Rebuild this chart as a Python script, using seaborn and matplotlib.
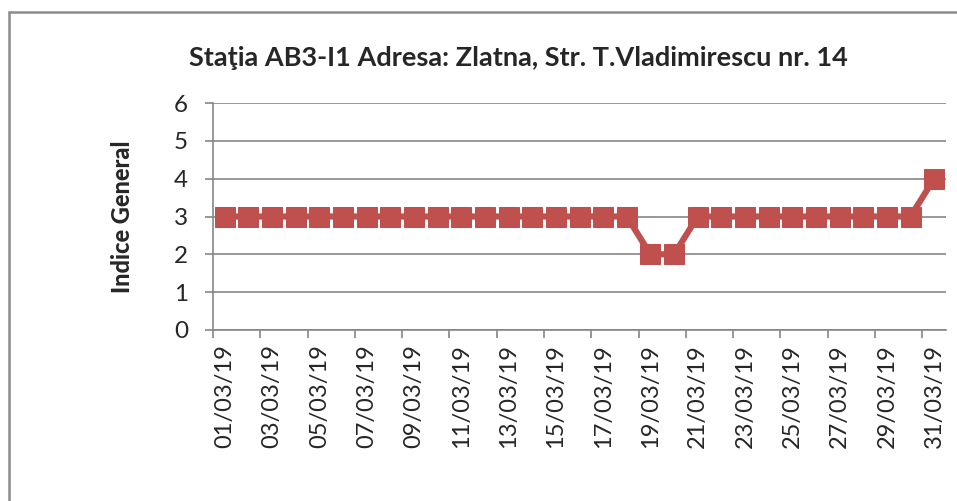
import matplotlib
matplotlib.use("Agg")
import matplotlib.pyplot as plt
from matplotlib.lines import Line2D
import seaborn as sns
import pandas as pd

dates = ["01/03/19", "02/03/19", "03/03/19", "04/03/19", "05/03/19", "06/03/19",
         "07/03/19", "08/03/19", "09/03/19", "10/03/19", "11/03/19", "12/03/19",
         "13/03/19", "14/03/19", "15/03/19", "16/03/19", "17/03/19", "18/03/19",
         "19/03/19", "20/03/19", "21/03/19", "22/03/19", "23/03/19", "24/03/19",
         "25/03/19", "26/03/19", "27/03/19", "28/03/19", "29/03/19", "30/03/19",
         "31/03/19"]
values = [3, 3, 3, 3, 3, 3, 3, 3, 3, 3, 3, 3, 3, 3, 3, 3, 3, 3,
          2, 2, 3, 3, 3, 3, 3, 3, 3, 3, 3, 3, 4]
title = "Staţia AB3-I1 Adresa: Zlatna, Str. T.Vladimirescu nr. 14"
ylabel = "Indice General"
yticks = [0, 1, 2, 3, 4, 5, 6]

sns.set_theme(style="white")
plt.rcParams["font.family"] = ["Lato", "DejaVu Sans"]

df = pd.DataFrame({"idx": range(len(dates)), "date": dates, "val": values})

W, H = 957, 501
fig = plt.figure(figsize=(W / 100, H / 100), dpi=100)
ax = fig.add_axes([213 / W, 1 - 330 / H, (946 - 213) / W, (330 - 103) / H])

red = "#C0504D"
grid = "#868686"
sns.lineplot(data=df, x="idx", y="val", ax=ax, color=red, linewidth=4.5,
             marker="s", markersize=14, markeredgecolor=red, markerfacecolor=red)

ax.set_xlim(-0.5, len(dates) - 0.5)
ax.set_ylim(0, 6)
ax.set_yticks(yticks)
ax.set_yticklabels([str(v) for v in yticks], fontsize=17.5)
ax.yaxis.grid(True, color=grid, linewidth=1.2)
ax.set_axisbelow(True)

ax.set_xticks(list(range(0, len(dates), 2)))
ax.set_xticklabels(dates[::2], rotation=90, fontsize=17)
ax.set_xticks([i - 0.5 for i in range(0, len(dates), 2)], minor=True)
ax.tick_params(axis="x", which="major", length=0, pad=10)
ax.tick_params(axis="x", which="minor", length=6, width=1.2, color=grid, direction="out", bottom=True)
ax.tick_params(axis="y", which="major", length=6, width=1.2, color=grid, direction="out", left=True, pad=12)

for s in ["top", "right"]:
    ax.spines[s].set_visible(False)
for s in ["left", "bottom"]:
    ax.spines[s].set_color(grid)
    ax.spines[s].set_linewidth(1.2)

ax.set_xlabel("")
ax.set_ylabel(ylabel, fontsize=17, fontweight="black", labelpad=29)

fig.text(518 / W, 1 - 58 / H, title, ha="center", va="center", fontsize=19.5, fontweight="bold")

fig.add_artist(Line2D([9 / W, 1.0], [1 - 12 / H, 1 - 12 / H], transform=fig.transFigure,
                      color="#8c8c8c", linewidth=1.8))
fig.add_artist(Line2D([9 / W, 9 / W], [0, 1 - 12 / H], transform=fig.transFigure,
                      color="#8c8c8c", linewidth=1.8))

fig.savefig("out.png", dpi=100)
